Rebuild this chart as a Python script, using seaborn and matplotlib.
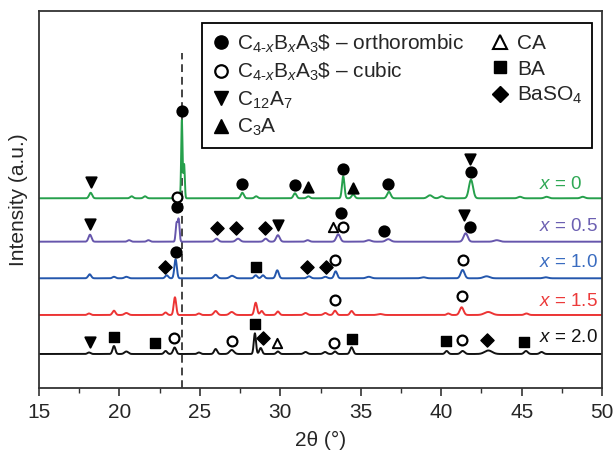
import numpy as np
import pandas as pd
import matplotlib
matplotlib.use("Agg")
import matplotlib.pyplot as plt
from matplotlib.lines import Line2D
import seaborn as sns

# ---------------------------------------------------------------------------
# XRD patterns: vertical offset of each pattern and its reflections
# (2theta position, intensity above the offset, FWHM)
# ---------------------------------------------------------------------------
samples = ["x = 0", "x = 0.5", "x = 1.0", "x = 1.5", "x = 2.0"]
offsets = [189.7, 146.3, 109.7, 73.0, 34.0]

pos_x00 = [18.21, 20.76, 21.59, 23.88, 24.02, 27.64, 28.50, 30.91, 31.74, 33.91,
           34.53, 36.75, 39.30, 40.03, 41.85, 44.90, 46.55, 48.80]
int_x00 = [5.5, 2.0, 2.0, 78.0, 34.0, 5.5, 2.0, 5.0, 2.0, 22.0,
           4.0, 6.5, 3.0, 2.0, 18.5, 1.5, 1.5, 1.5]
fwhm_x00 = [0.22, 0.22, 0.22, 0.10, 0.10, 0.22, 0.22, 0.22, 0.22, 0.18,
            0.22, 0.26, 0.35, 0.30, 0.30, 0.30, 0.30, 0.30]

pos_x05 = [18.17, 20.60, 21.80, 23.55, 23.68, 26.04, 27.37, 29.09, 29.85, 31.70,
           33.60, 35.50, 36.71, 41.52, 43.45]
int_x05 = [7.0, 1.5, 1.5, 18.0, 22.0, 3.0, 3.0, 3.0, 6.5, 1.5,
           7.4, 1.5, 2.5, 8.4, 1.5]
fwhm_x05 = [0.22, 0.22, 0.22, 0.13, 0.13, 0.26, 0.30, 0.26, 0.26, 0.26,
            0.28, 0.35, 0.35, 0.30, 0.40]

pos_x10 = [18.15, 19.66, 20.43, 22.94, 23.49, 25.98, 27.00, 28.47, 28.92, 29.81,
           31.78, 32.80, 33.44, 35.50, 38.90, 41.33, 42.82, 46.50]
int_x10 = [4.0, 1.5, 1.5, 3.0, 19.0, 3.5, 2.5, 3.0, 3.0, 8.0,
           2.0, 1.5, 7.0, 1.5, 1.0, 8.3, 2.0, 1.0]
fwhm_x10 = [0.22, 0.22, 0.26, 0.22, 0.18, 0.26, 0.32, 0.22, 0.22, 0.22,
            0.26, 0.26, 0.22, 0.35, 0.35, 0.28, 0.45, 0.35]

pos_x15 = [18.11, 19.66, 20.43, 22.87, 23.45, 24.94, 25.98, 26.98, 28.47, 28.84,
           29.85, 31.57, 32.80, 33.40, 34.43, 36.20, 40.44, 41.27, 42.92, 45.30]
int_x15 = [1.5, 4.3, 2.0, 2.5, 17.7, 1.5, 4.0, 3.0, 12.3, 4.0,
           3.5, 2.0, 2.0, 4.3, 4.0, 1.0, 1.5, 7.7, 3.0, 1.5]
fwhm_x15 = [0.22, 0.22, 0.28, 0.22, 0.18, 0.22, 0.26, 0.32, 0.20, 0.22,
            0.22, 0.26, 0.26, 0.22, 0.22, 0.35, 0.22, 0.28, 0.55, 0.28]

pos_x20 = [18.11, 19.66, 20.43, 22.87, 23.43, 24.94, 25.98, 26.98, 28.42, 28.78,
           29.85, 31.57, 32.78, 33.40, 34.43, 40.34, 41.33, 42.93, 45.27, 46.24]
int_x20 = [1.5, 8.0, 2.5, 3.0, 6.5, 1.5, 5.0, 4.0, 20.7, 6.0,
           2.5, 2.0, 2.0, 2.5, 6.7, 3.0, 3.0, 3.5, 3.0, 2.0]
fwhm_x20 = [0.22, 0.20, 0.28, 0.22, 0.22, 0.22, 0.22, 0.32, 0.16, 0.20,
            0.22, 0.26, 0.26, 0.22, 0.22, 0.22, 0.28, 0.55, 0.26, 0.26]

peak_tables = [(pos_x00, int_x00, fwhm_x00), (pos_x05, int_x05, fwhm_x05),
               (pos_x10, int_x10, fwhm_x10), (pos_x15, int_x15, fwhm_x15),
               (pos_x20, int_x20, fwhm_x20)]

line_colors = ["#26a04c", "#6656ac", "#2457ad", "#ec3434", "#111111"]
label_colors = ["#2fa855", "#6c60b2", "#3a6cc0", "#ec3a3a", "#111111"]
label_y = [203, 161, 125, 86, 50]

# ---------------------------------------------------------------------------
# Phase identification markers (2theta, height)
# ---------------------------------------------------------------------------
ortho_t = [23.91, 27.64, 30.89, 33.91, 36.71, 41.85, 23.60, 33.75, 36.44, 41.79, 23.49]
ortho_y = [277.3, 204.0, 203.0, 218.7, 204.0, 216.3, 180.7, 174.7, 157.3, 161.3, 135.7]
cubic_t = [23.60, 33.87, 33.40, 41.33, 33.40, 41.27, 23.39, 26.98, 33.33, 41.27]
cubic_y = [191.3, 161.3, 128.0, 128.0, 88.0, 92.0, 49.7, 47.0, 45.3, 47.7]
c12a7_t = [18.21, 41.79, 18.17, 29.85, 41.41, 18.15]
c12a7_y = [206.3, 229.0, 163.7, 163.0, 173.0, 46.3]
c3a_t = [31.74, 34.50]
c3a_y = [201.3, 200.3]
ca_t = [33.29, 29.81]
ca_y = [161.3, 44.7]
ba_t = [28.50, 19.66, 22.19, 28.42, 34.43, 40.30, 45.16]
ba_y = [121.3, 51.3, 44.7, 63.7, 48.7, 47.0, 46.3]
baso4_t = [26.04, 27.27, 29.05, 22.83, 31.68, 32.82, 28.94, 42.86]
baso4_y = [160.3, 160.3, 160.3, 120.7, 120.7, 120.7, 49.7, 47.7]

ref_line_t = 23.87

# ---------------------------------------------------------------------------
sns.set_theme(style="ticks")
plt.rcParams["font.family"] = ["Liberation Sans", "DejaVu Sans"]
plt.rcParams["mathtext.fontset"] = "custom"
plt.rcParams["mathtext.rm"] = "Liberation Sans"
plt.rcParams["mathtext.it"] = "Liberation Sans:italic"
plt.rcParams["mathtext.bf"] = "Liberation Sans:bold"

theta = np.arange(15.0, 50.0001, 0.01)
frames = []
for name, off, (pos, hgt, fw) in zip(samples, offsets, peak_tables):
    y = np.full_like(theta, off)
    for p, h, w in zip(pos, hgt, fw):
        s = w / 2.3548
        y += h * np.exp(-0.5 * ((theta - p) / s) ** 2)
    frames.append(pd.DataFrame({"theta": theta, "intensity": y, "sample": name}))
patterns = pd.concat(frames, ignore_index=True)

fig = plt.figure(figsize=(6.15, 4.5), dpi=100)
ax = fig.add_axes([0.0634, 0.1378, 0.9156, 0.8378])

sns.lineplot(data=patterns, x="theta", y="intensity", hue="sample",
             hue_order=samples, palette=line_colors, sort=False,
             estimator=None, linewidth=1.4, legend=False, ax=ax)

ax.plot([ref_line_t, ref_line_t], [0, 335], color="#444444", lw=1.4,
        dashes=(4, 2.5), zorder=1)

mk = dict(color="black", s=55, zorder=5, linewidths=1.4)
ax.scatter(ortho_t, ortho_y, marker="o", **mk)
ax.scatter(cubic_t, cubic_y, marker="o", facecolors="white", edgecolors="black",
           s=50, zorder=5, linewidths=1.6)
ax.scatter(c12a7_t, c12a7_y, marker="v", **mk)
ax.scatter(c3a_t, c3a_y, marker="^", **mk)
ax.scatter(ca_t, ca_y, marker="^", facecolors="white", edgecolors="black",
           s=45, zorder=5, linewidths=1.4)
ax.scatter(ba_t, ba_y, marker="s", color="black", s=50, zorder=5)
ax.scatter(baso4_t, baso4_y, marker="D", color="black", s=45, zorder=5)

for name, yl, c in zip(samples, label_y, label_colors):
    ax.text(46.1, yl, "$x$" + name[1:], color=c, fontsize=13.5,
            ha="left", va="center")

ax.set_xlim(15, 50)
ax.set_ylim(0, 377)
ax.set_xticks(np.arange(15, 51, 5))
ax.set_xticks(np.arange(15, 50.1, 2.5), minor=True)
ax.set_yticks([])
ax.tick_params(axis="x", which="major", direction="out", length=6, width=1.2,
               labelsize=15, color="#333333", pad=5)
ax.tick_params(axis="x", which="minor", direction="out", length=3.5, width=1.0,
               color="#333333")
for sp in ax.spines.values():
    sp.set_visible(True)
    sp.set_color("#333333")
    sp.set_linewidth(1.3)
ax.set_xlabel("2θ (°)", fontsize=15, labelpad=6)
ax.set_ylabel("Intensity (a.u.)", fontsize=15, labelpad=8)

handles = [
    Line2D([], [], ls="none", marker="o", color="black", ms=9.5),
    Line2D([], [], ls="none", marker="o", mfc="white", mec="black", mew=1.6, ms=9),
    Line2D([], [], ls="none", marker="v", color="black", ms=10),
    Line2D([], [], ls="none", marker="^", color="black", ms=10),
    Line2D([], [], ls="none", marker="^", mfc="white", mec="black", mew=1.5, ms=9.5),
    Line2D([], [], ls="none", marker="s", color="black", ms=8.5),
    Line2D([], [], ls="none", marker="D", color="black", ms=8.5),
]
labels = [
    r"C$_{4\text{-}x}$B$_{x}$A$_{3}$\$ – orthorombic",
    r"C$_{4\text{-}x}$B$_{x}$A$_{3}$\$ – cubic",
    r"C$_{12}$A$_{7}$",
    r"C$_{3}$A",
    "CA",
    "BA",
    r"BaSO$_{4}$",
]
leg = ax.legend(handles, labels, ncol=2, loc="upper right",
                bbox_to_anchor=(0.982, 0.968), borderaxespad=0,
                fontsize=15, frameon=True, fancybox=False,
                edgecolor="black", framealpha=1, handlelength=0.9,
                handletextpad=0.35, columnspacing=1.25, labelspacing=0.3,
                borderpad=0.45)
leg.get_frame().set_linewidth(1.3)

fig.savefig("out.png", dpi=100)
